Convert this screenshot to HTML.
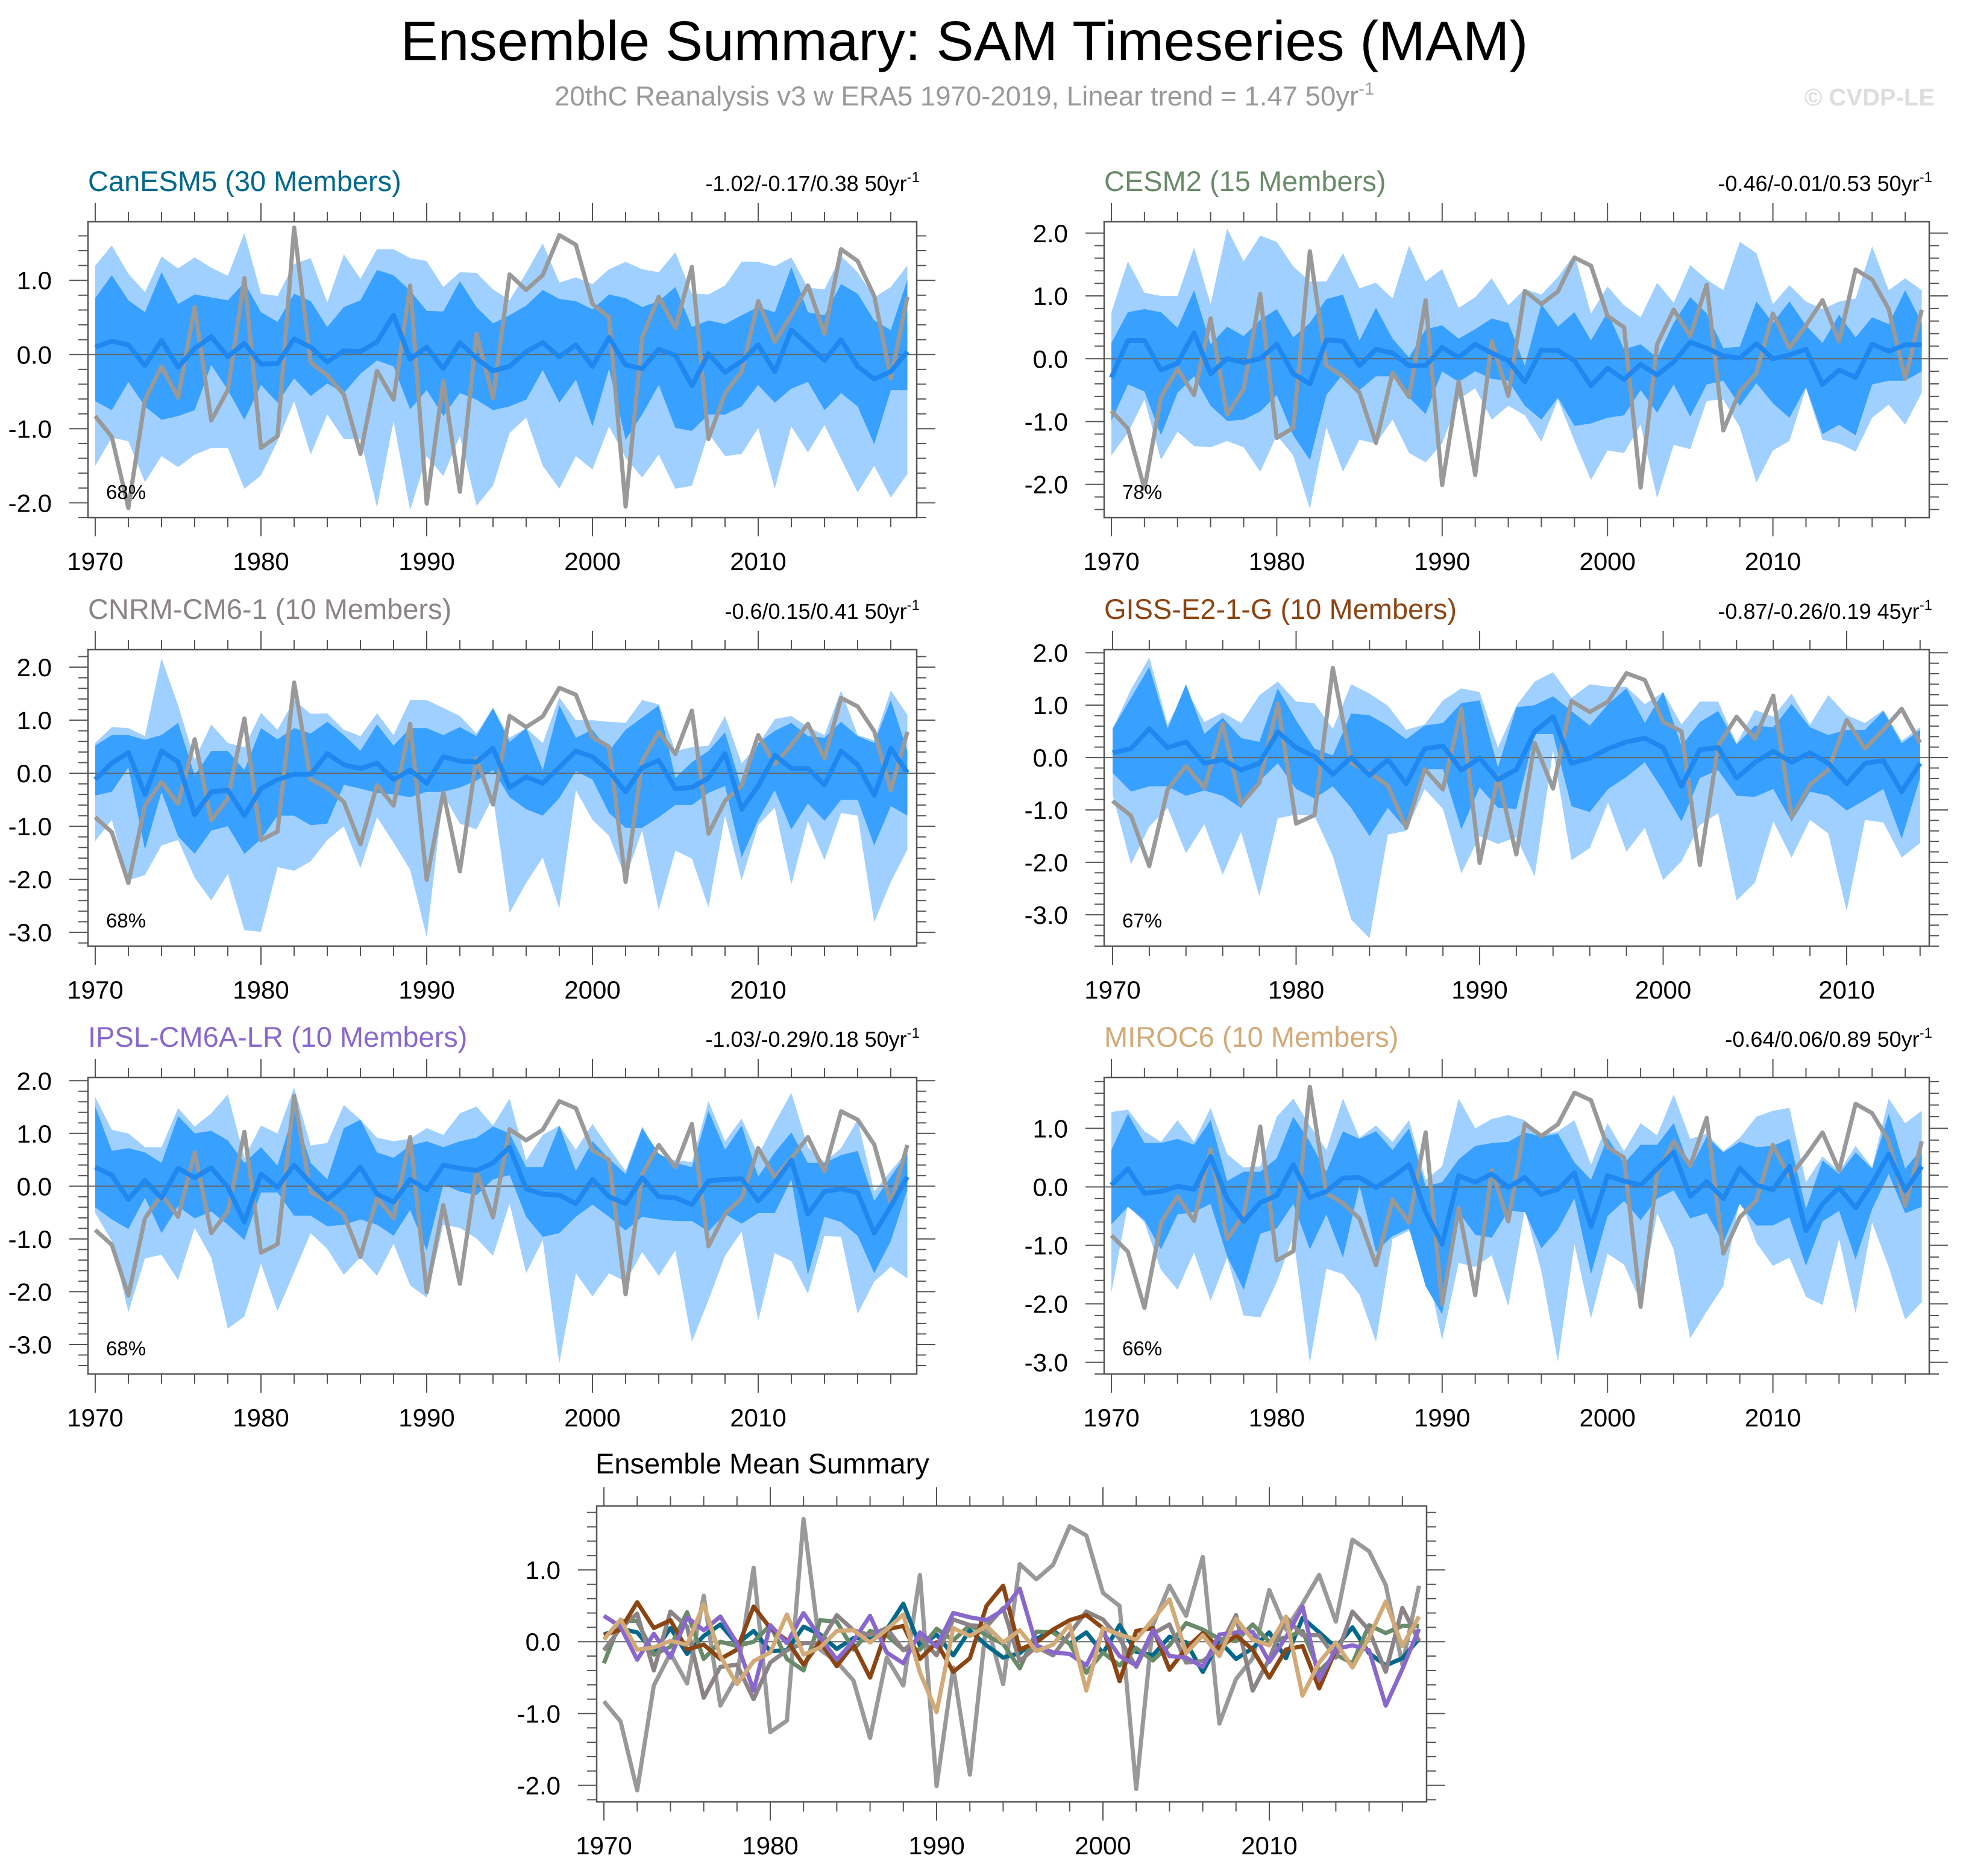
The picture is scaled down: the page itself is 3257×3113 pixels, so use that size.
<!DOCTYPE html>
<html><head><meta charset="utf-8"><title>Ensemble Summary: SAM Timeseries (MAM)</title>
<style>html,body{margin:0;padding:0;background:#fff}svg{display:block}text{font-family:"Liberation Sans",Arial,sans-serif}</style>
</head><body>
<svg id="chart" xmlns="http://www.w3.org/2000/svg" width="3257" height="3113" viewBox="0 0 3257 3113">
<rect x="0" y="0" width="3257" height="3113" fill="#fff"/>
<text x="1600" y="100" font-size="93" text-anchor="middle" fill="#000">Ensemble Summary: SAM Timeseries (MAM)</text>
<text x="1600" y="175" font-size="45.5" text-anchor="middle" fill="#999">20thC Reanalysis v3 w ERA5 1970-2019, Linear trend = 1.47 50yr<tspan dy="-18" font-size="29">-1</tspan></text>
<text x="3210" y="175" font-size="40" font-weight="bold" text-anchor="end" fill="#ddd">© CVDP-LE</text>
</svg>
<script>
// ---------- data ----------
const years = [1970,1971,1972,1973,1974,1975,1976,1977,1978,1979,1980,1981,1982,1983,1984,1985,1986,1987,1988,1989,1990,1991,1992,1993,1994,1995,1996,1997,1998,1999,2000,2001,2002,2003,2004,2005,2006,2007,2008,2009,2010,2011,2012,2013,2014,2015,2016,2017,2018,2019];
const yearTicks = [1970,1980,1990,2000,2010];
const obs = [-0.83,-1.11,-2.07,-0.61,-0.16,-0.58,0.64,-0.89,-0.48,1.03,-1.26,-1.10,1.71,-0.11,-0.28,-0.54,-1.34,-0.22,-0.61,0.93,-2.01,-0.36,-1.85,0.28,-0.59,1.08,0.87,1.07,1.61,1.48,0.68,0.50,-2.05,0.23,0.78,0.36,1.18,-1.14,-0.52,-0.23,0.72,0.17,0.53,0.93,0.28,1.42,1.26,0.79,-0.32,0.78];

const canMean=[0.1,0.18,0.13,-0.15,0.19,-0.17,0.08,0.24,-0.03,0.15,-0.13,-0.12,0.21,0.1,-0.1,0.05,0.04,0.17,0.53,-0.06,0.1,-0.19,0.16,-0.05,-0.22,-0.16,0.04,0.16,-0.03,0.13,-0.16,0.23,-0.14,-0.19,0.07,-0.01,-0.42,0.01,-0.24,-0.09,0.13,-0.23,0.33,0.13,-0.08,0.2,-0.16,-0.33,-0.23,0.04];
const canDU=[0.76,1.07,0.73,0.57,1.11,0.68,0.81,0.77,0.73,0.97,0.57,0.44,0.82,0.72,0.37,0.64,0.73,1.14,1.07,0.86,0.59,0.58,0.99,0.64,0.42,0.53,0.66,0.87,0.75,0.72,0.61,0.81,0.76,0.64,0.72,0.91,0.37,0.46,0.41,0.53,0.64,0.57,1.18,0.57,0.53,0.95,0.82,0.46,0.33,1.01];
const canLU=[1.2,1.47,1.09,0.84,1.32,1.16,1.31,1.17,1.06,1.64,0.82,0.79,1.22,1.3,0.7,1.35,1.02,1.42,1.42,1.3,1.26,0.91,1.11,1.1,0.88,0.73,1.1,1.5,0.97,1.04,0.95,1.15,1.25,1.15,1.11,1.38,0.82,0.81,0.93,1.25,1.25,1.19,1.31,0.9,0.88,1.33,1.11,0.77,0.91,1.2];
const canDL=[-0.63,-0.75,-0.37,-0.7,-0.88,-0.83,-0.75,-0.14,-0.48,-0.88,-0.41,-0.65,-0.32,-0.56,-0.39,-0.52,-0.26,-0.08,-0.16,-0.74,-0.48,-0.83,-0.52,-0.61,-0.75,-0.7,-0.61,-0.21,-0.65,-0.34,-0.97,-0.19,-1.15,-0.81,-0.41,-0.99,-1.03,-0.81,-0.81,-0.7,-0.41,-0.65,-0.46,-0.37,-0.75,-0.52,-0.7,-1.21,-0.48,-0.48];
const canLL=[-1.5,-1.12,-1.17,-1.72,-1.37,-1.52,-1.35,-1.26,-1.26,-1.81,-1.63,-1.17,-0.63,-1.35,-0.81,-1.14,-1.14,-2.06,-0.9,-2.1,-1.37,-1.64,-1.1,-2.04,-1.77,-1.06,-0.85,-1.5,-1.81,-1.37,-1.55,-0.97,-1.39,-1.66,-1.35,-1.81,-1.77,-1.06,-1.37,-1.34,-0.99,-1.81,-0.97,-1.32,-0.95,-1.41,-1.86,-1.5,-1.93,-1.61];

const cesmMean=[-0.3,0.29,0.29,-0.18,-0.07,0.41,-0.24,0,-0.06,0,0.23,-0.24,-0.4,0.3,0.28,-0.11,0.15,0.09,-0.11,-0.11,0.18,0.02,0.23,0.09,-0.03,-0.37,0.14,0.13,-0.03,-0.43,-0.15,-0.33,-0.09,-0.26,-0.05,0.26,0.17,0.04,0.01,0.24,0,0.06,0.15,-0.41,-0.18,-0.3,0.23,0.12,0.22,0.22];
const cesmDU=[0.25,0.74,0.79,0.74,0.49,1.09,0.23,0.51,0.36,0.62,0.79,0.34,0.57,0.95,1.02,0.29,0.81,0.32,0.02,0.47,0.53,0.32,0.47,0.64,0.57,-0.11,0.87,0.51,0.74,0.29,0.74,0.15,0.23,0.02,0.57,0.98,0.72,0.17,0.19,0.91,0.57,0.91,0.53,0.25,0.7,0.34,0.66,0.55,1.09,0.57];
const cesmLU=[0.74,1.55,1.05,1.0,1.0,1.77,0.87,2.07,1.55,1.96,1.86,1.47,1.23,1.23,1.68,1.12,1.21,0.96,1.8,1.23,1.43,0.81,0.98,1.28,0.85,1.11,1.02,1.3,1.66,0.72,1.15,0.85,0.66,1.21,0.89,1.49,1.26,1.09,1.86,1.68,0.87,1.17,0.91,0.79,0.91,0.96,1.79,1.09,1.28,1.09];
const cesmDL=[-0.99,-0.41,-0.52,-1.22,-0.54,-0.28,-0.75,-0.99,-0.97,-0.84,-0.58,-1.22,-1.61,-0.58,-0.24,-0.5,-0.28,-0.28,-0.62,-0.88,-0.2,-0.37,-0.2,-0.32,-0.35,-0.75,-0.97,-0.62,-1.07,-1.03,-0.94,-0.9,-0.5,-0.86,-0.41,-0.92,-0.41,-0.35,-0.75,-0.39,-0.71,-0.94,-0.45,-1.2,-1.05,-1.22,-0.41,-0.35,-0.35,-0.2];
const cesmLL=[-1.54,-1.18,-0.65,-1.61,-1.16,-1.39,-1.41,-1.31,-1.41,-1.8,-1.22,-1.54,-2.39,-1.09,-1.8,-1.29,-1.35,-0.97,-1.5,-1.65,-1.35,-0.65,-0.47,-0.97,-0.75,-0.9,-1.32,-0.65,-1.31,-1.93,-1.46,-1.5,-1.05,-2.22,-1.37,-1.44,-0.67,-0.65,-1.09,-1.97,-1.46,-1.31,-0.47,-1.29,-1.35,-1.48,-0.94,-0.73,-1.05,-0.54];

const cnrmMean=[-0.12,0.19,0.39,-0.4,0.42,0.21,-0.78,-0.35,-0.32,-0.8,-0.29,-0.12,-0.02,-0.02,0.37,0.16,0.09,0.19,-0.12,0.06,-0.19,0.31,0.23,0.21,0.47,-0.27,-0.07,-0.19,0.11,0.42,0.31,0.04,-0.35,0.11,0.24,-0.29,-0.27,-0.09,0.37,-0.68,-0.24,0.34,0.09,0.09,-0.22,0.42,0.16,-0.42,0.47,0.01];
const cnrmDU=[0.52,0.72,0.72,0.63,0.72,0.95,-0.04,0.42,0.42,0.06,0.85,0.64,0.85,0.75,0.97,0.72,0.42,0.92,0.52,0.85,0.85,0.72,0.87,0.7,1.23,0.59,0.85,0.06,1.28,0.67,0.82,0.42,0.82,1.05,1.28,-0.09,0.21,0.42,0.77,-0.29,0.57,0.8,0.95,0.7,0.67,0.97,0.7,0.57,1.38,0.42];
const cnrmLU=[0.57,0.87,0.85,0.7,2.17,1.28,0.26,0.92,0.57,0.49,1.14,0.82,1.38,1.12,1.13,0.82,0.7,1.13,0.72,1.38,1.38,1.23,1.08,0.75,1.23,0.67,0.85,0.57,1.43,1.0,1.0,0.97,0.95,1.38,1.3,0.42,0.49,0.52,1.08,0.19,0.54,1.02,1.08,0.87,0.72,1.56,0.72,0.62,1.56,1.1];
const cnrmDL=[-0.42,-0.35,0.11,-1.44,-0.35,-1.19,-1.52,-1.08,-1.0,-1.52,-1.24,-0.8,-0.8,-0.98,-0.95,-0.22,-0.29,-0.37,-0.4,-0.45,-0.35,-0.35,-0.27,-0.14,0.06,-0.45,-0.68,-0.8,-0.47,0.04,-0.12,-0.75,-1.03,-1.03,-0.83,-0.6,-0.6,-0.37,-0.24,-1.59,-0.88,-0.32,-1.06,-0.57,-0.9,-0.5,-0.5,-1.36,-0.62,-0.8];
const cnrmLL=[-1.28,-0.88,-2.02,-1.92,-1.36,-1.26,-1.97,-2.4,-1.9,-2.96,-2.99,-1.77,-1.84,-1.66,-1.26,-1.0,-1.79,-0.83,-1.31,-1.82,-3.09,-0.4,-0.95,-1.06,-0.45,-2.63,-2.07,-1.59,-2.55,-0.32,-0.88,-1.18,-1.97,-1.08,-2.58,-1.46,-1.61,-2.53,-0.8,-2.02,-0.98,-0.65,-2.1,-0.9,-1.64,-0.75,-0.8,-2.81,-2.05,-1.44];

const gissMean=[0.09,0.17,0.55,0.19,0.3,-0.11,-0.04,-0.24,-0.11,0.49,0.19,0.02,-0.32,0,-0.34,-0.04,-0.5,0.17,0.22,-0.24,-0.01,-0.42,-0.23,0.5,0.78,-0.11,-0.01,0.17,0.3,0.37,0.19,-0.55,0.15,0.19,-0.39,-0.09,0.12,-0.09,0.09,-0.11,-0.5,-0.11,-0.06,-0.65,-0.11];
const gissDU=[0.55,1.14,1.73,0.55,1.4,0.45,0.76,0.37,0.3,1.32,0.71,0.17,0.04,0.84,0.81,0.61,0.35,0.61,0.66,1.04,1.09,-0.19,0.96,1.0,1.17,0.89,0.61,1.02,1.32,0.66,1.25,0.22,0.68,0.89,0.25,0.61,0.58,1.02,0.58,0.43,0.53,0.53,0.89,0.27,0.53];
const gissLU=[0.55,1.3,1.91,0.63,1.3,0.68,0.86,0.66,1.19,1.45,1.07,1.04,0.55,1.4,1.22,0.99,0.53,0.63,1.09,1.32,1.25,0.19,0.99,1.45,1.63,1.14,1.4,1.35,1.35,1.02,1.25,0.63,1.07,1.07,0.27,0.91,0.78,1.22,0.63,1.19,0.81,0.66,0.91,0.32,0.58];
const gissDL=[-0.29,-0.65,-0.55,-0.55,-0.73,-0.63,-0.73,-0.96,-0.45,-0.11,-0.6,-0.78,-0.55,-0.96,-1.5,-0.96,-1.37,-0.22,-0.22,-1.37,-0.57,-0.96,-0.98,0.45,0.45,-0.93,-1.04,-0.6,-0.37,-0.09,-0.63,-1.22,-0.39,-0.24,-0.73,-0.75,-0.6,-1.22,-0.65,-0.73,-1.01,-0.81,-0.6,-1.55,-0.39];
const gissLL=[-0.7,-2.04,-1.32,-0.96,-1.83,-1.27,-2.24,-1.42,-2.65,-1.16,-1.09,-1.11,-1.88,-3.09,-3.45,-1.47,-1.4,-0.6,-0.98,-2.21,-1.5,-1.65,-1.52,-2.27,0.14,-1.96,-1.73,-0.86,-1.8,-1.34,-2.34,-1.98,-1.29,-1.06,-2.73,-2.39,-1.22,-1.91,-1.19,-1.45,-2.93,-1.19,-1.24,-1.91,-1.63];

const ipslMean=[0.36,0.21,-0.25,0.11,-0.22,0.34,0.16,0.35,-0.02,-0.68,0.23,-0.02,0.4,0.06,-0.25,0.01,0.36,-0.15,-0.3,0.13,-0.07,0.4,0.34,0.3,0.44,0.74,-0.05,-0.15,-0.17,-0.33,0.13,-0.2,-0.33,0.16,-0.2,-0.22,-0.35,0.1,0.13,0.14,-0.28,0.06,0.49,-0.53,-0.1,-0.05,-0.12,-0.89,-0.38,0.18];
const ipslDU=[1.51,0.67,0.72,0.64,0.44,1.33,1.0,1.05,0.87,0.44,0.74,0.39,1.43,0.44,0.13,1.1,1.26,0.64,0.54,0.77,0.85,0.74,0.85,0.92,1.13,1.0,0.36,0.36,1.15,0.29,0.85,0.52,0.23,1.1,0.62,0.44,0.36,1.43,0.69,1.15,0.18,0.64,1.02,0.44,0.44,0.59,0.67,-0.28,0.18,0.64];
const ipslLU=[1.69,1.07,1.0,0.74,0.74,1.48,1.13,1.38,1.74,0.54,1.15,1.0,1.87,0.77,0.82,1.54,1.26,0.92,0.85,0.9,1.1,0.97,1.38,1.51,1.15,1.66,0.49,0.97,1.15,0.69,1.18,0.72,0.29,1.13,0.57,0.49,0.46,1.61,0.85,1.28,0.59,1.2,1.77,0.74,0.46,0.72,1.26,-0.1,0.29,0.67];
const ipslDL=[-0.4,-0.63,-0.81,-0.22,-0.89,-0.38,-0.61,-0.48,-0.73,-1.02,-0.12,-0.12,-0.56,-0.56,-0.76,-0.73,-0.63,-0.73,-0.94,-0.45,-1.22,0.03,-0.1,-0.17,0.13,0.21,-0.58,-0.96,-0.89,-0.58,-0.35,-0.58,-0.84,-0.58,-0.63,-0.66,-0.66,-0.86,-0.53,-0.71,-0.51,-0.51,0.13,-1.68,-0.58,-0.68,-0.94,-1.65,-1.04,-0.07];
const ipslLL=[-0.51,-1.04,-2.39,-1.37,-1.3,-1.78,-0.79,-1.35,-2.7,-2.47,-1.47,-2.37,-1.63,-0.89,-1.19,-1.68,-1.35,-1.7,-1.09,-1.88,-2.11,-0.73,-0.79,-0.99,-1.32,-0.33,-1.65,-1.02,-3.36,-1.65,-2.09,-1.65,-1.81,-1.25,-1.7,-1.22,-2.95,-2.16,-1.32,-0.86,-2.55,-1.27,-1.42,-2.04,-0.94,-0.96,-2.42,-1.81,-1.53,-1.75];

const mirocMean=[0.03,0.31,-0.11,-0.08,0.01,-0.04,0.52,-0.2,-0.59,-0.27,-0.15,0.38,-0.18,-0.08,0.15,0.16,-0.01,0.17,0.38,-0.43,-0.98,0.19,0.08,0.22,-0.01,0.16,-0.13,-0.04,0.24,-0.68,0.19,0.1,0.03,0.31,0.59,-0.16,0.09,-0.2,0.32,0.03,-0.05,0.35,-0.75,-0.29,-0.01,-0.36,0.06,0.56,-0.06,0.35];
const mirocDU=[0.63,1.25,0.75,0.75,0.82,0.72,1.14,0.1,0.26,0.26,0.49,1.2,0.77,0.26,0.95,0.82,0.95,0.63,1.0,0.01,0.08,0.47,0.7,0.75,0.77,0.93,0.86,0.91,0.42,0.12,0.84,0.4,0.72,0.72,1.09,0.31,0.86,0.59,0.77,0.68,0.7,0.82,-0.38,0.45,0.22,0.59,0.31,1.25,0.31,0.65];
const mirocLU=[1.28,1.32,0.95,0.77,1.14,0.77,1.35,0.56,0.33,0.35,1.2,1.51,1.05,0.63,1.51,0.84,1.05,0.77,1.14,0.12,0.35,1.51,1.0,1.16,1.23,1.14,0.88,0.95,1.14,0.38,1.09,0.61,1.09,0.88,1.58,0.82,0.91,0.61,0.84,1.2,1.3,1.35,0.08,0.52,0.26,0.7,0.33,1.51,1.09,1.3];
const mirocDL=[-0.64,-0.34,-0.57,-1.07,-0.47,-0.43,-0.29,-1.19,-1.76,-0.8,-0.71,-0.29,-1.07,-0.47,-1.21,0.03,-1.11,-0.84,-0.71,-1.7,-2.18,-0.43,-0.82,-0.87,-0.41,-0.43,-1.05,-0.73,-0.2,-1.49,-0.5,-0.24,-0.57,-0.2,-0.06,-0.54,-0.45,-0.96,-0.29,-0.66,-0.66,-0.52,-1.35,-0.59,-0.41,-1.24,-0.38,0.22,-0.45,-0.34];
const mirocLL=[-1.81,-0.31,-0.61,-1.42,-1.76,-1.12,-1.95,-1.21,-2.2,-2.23,-1.63,-0.84,-3.01,-1.4,-1.49,-1.84,-2.65,-0.89,-0.75,-1.3,-2.62,-1.3,-1.37,-1.17,-2.04,-0.38,-1.44,-2.99,-0.98,-2.25,-1.14,-1.33,-1.97,-0.45,-1.07,-2.59,-2.13,-1.7,-0.2,-0.96,-1.35,-1.21,-1.88,-2.02,-0.89,-2.16,-0.61,-1.37,-2.27,-1.97];

// ---------- rendering ----------
const NS='http://www.w3.org/2000/svg';
const svg=document.getElementById('chart');
function mk(tag,attrs,parent){const e=document.createElementNS(NS,tag);for(const k in attrs)e.setAttribute(k,attrs[k]);(parent||svg).appendChild(e);return e;}

const panels=[
 {key:'canesm5',title:'CanESM5 (30 Members)',color:'#00688b',trend:'-1.02/-0.17/0.38 50yr',pct:'68%',L:146,R:1521,T:368,B:859,x0:158,ppy:27.5,yMax:1.79,yMin:-2.2,mean:canMean,du:canDU,lu:canLU,dl:canDL,ll:canLL},
 {key:'cesm2',title:'CESM2 (15 Members)',color:'#698b69',trend:'-0.46/-0.01/0.53 50yr',pct:'78%',L:1832,R:3201,T:368,B:859,x0:1844,ppy:27.44,yMax:2.18,yMin:-2.53,mean:cesmMean,du:cesmDU,lu:cesmLU,dl:cesmDL,ll:cesmLL},
 {key:'cnrm-cm6-1',title:'CNRM-CM6-1 (10 Members)',color:'#8b8386',trend:'-0.6/0.15/0.41 50yr',pct:'68%',L:146,R:1521,T:1078,B:1570,x0:158,ppy:27.5,yMax:2.33,yMin:-3.26,mean:cnrmMean,du:cnrmDU,lu:cnrmLU,dl:cnrmDL,ll:cnrmLL},
 {key:'giss-e2-1-g',title:'GISS-E2-1-G (10 Members)',color:'#8b4513',trend:'-0.87/-0.26/0.19 45yr',pct:'67%',L:1832,R:3201,T:1078,B:1570,x0:1846,ppy:30.45,yMax:2.06,yMin:-3.6,mean:gissMean,du:gissDU,lu:gissLU,dl:gissDL,ll:gissLL},
 {key:'ipsl-cm6a-lr',title:'IPSL-CM6A-LR (10 Members)',color:'#8968cd',trend:'-1.03/-0.29/0.18 50yr',pct:'68%',L:146,R:1521,T:1788,B:2280,x0:158,ppy:27.5,yMax:2.06,yMin:-3.56,mean:ipslMean,du:ipslDU,lu:ipslLU,dl:ipslDL,ll:ipslLL},
 {key:'miroc6',title:'MIROC6 (10 Members)',color:'#d2aa78',trend:'-0.64/0.06/0.89 50yr',pct:'66%',L:1832,R:3201,T:1788,B:2280,x0:1844,ppy:27.44,yMax:1.87,yMin:-3.2,mean:mirocMean,du:mirocDU,lu:mirocLU,dl:mirocDL,ll:mirocLL}
];

function axes(p,g){
  const xs=y=>p.x0+(y-1970)*p.ppy;
  const ys=v=>p.T+(p.yMax-v)/(p.yMax-p.yMin)*(p.B-p.T);
  p.xs=xs;p.ys=ys;
  for(let yr=1970;yr<=2018;yr+=2){
    const x=xs(yr); if(x>p.R) continue;
    const major=(yr%10===0); const len=major?31:16;
    const t1=mk('line',{x1:x,y1:p.T,x2:x,y2:p.T-len,stroke:'#555','stroke-width':2},g);
    
    
    const t2=mk('line',{x1:x,y1:p.B,x2:x,y2:p.B+len,stroke:'#555','stroke-width':2},g);
    
    
  }
  yearTicks.forEach(yr=>{
    const x=xs(yr); if(x>p.R) return;
    const t=mk('text',{x:x,y:p.B+87,'font-size':42,'text-anchor':'middle',fill:'#000'},g);
    t.textContent=yr;
    
    
  });
  for(let i=Math.ceil(p.yMin*5);i<=Math.floor(p.yMax*5);i++){
    const v=i/5; const y=ys(v); const major=(i%5===0); const len=major?31:16;
    const a=mk('line',{x1:p.L,y1:y,x2:p.L-len,y2:y,stroke:'#555','stroke-width':2},g);
    
    
    const b=mk('line',{x1:p.R,y1:y,x2:p.R+len,y2:y,stroke:'#555','stroke-width':2},g);
    
    
    if(major){
      const t=mk('text',{x:p.L-60,y:y+15,'font-size':42,'text-anchor':'end',fill:'#000'},g);
      t.textContent=(v).toFixed(1).replace('-0.0','0.0');
      
      
    }
  }
}
function pts(p,arr){return arr.map((v,i)=>p.xs(years[i]).toFixed(1)+','+p.ys(v).toFixed(1)).join(' ');}
function band(p,up,lo){const a=up.map((v,i)=>p.xs(years[i]).toFixed(1)+','+p.ys(v).toFixed(1));const b=lo.map((v,i)=>p.xs(years[i]).toFixed(1)+','+p.ys(v).toFixed(1)).reverse();return a.concat(b).join(' ');}

panels.forEach((p,idx)=>{
  const g=mk('g',{});
  
  
  axes(p,g);
  const clipId='clip'+idx;
  const cp=mk('clipPath',{id:clipId},g); mk('rect',{x:p.L,y:p.T,width:p.R-p.L,height:p.B-p.T},cp);
  const inner=mk('g',{'clip-path':'url(#'+clipId+')'},g);
  const n=p.mean.length;
  const lb=mk('polygon',{points:band(p,p.lu,p.ll),fill:'#a0d0ff'},inner);
  
  
  const db=mk('polygon',{points:band(p,p.du,p.dl),fill:'#38a0ff'},inner);
  
  
  const z=mk('line',{x1:p.L,x2:p.R,y1:p.ys(0),y2:p.ys(0),stroke:'#666','stroke-width':2},inner);
  
  
  const ol=mk('polyline',{points:pts(p,obs.slice(0,n)),fill:'none',stroke:'#999','stroke-width':7,'stroke-linejoin':'round'},inner);
  
  
  const ml=mk('polyline',{points:pts(p,p.mean),fill:'none',stroke:'#1e88f0','stroke-width':8,'stroke-linejoin':'round'},inner);
  
  
  const box=mk('rect',{x:p.L,y:p.T,width:p.R-p.L,height:p.B-p.T,fill:'none',stroke:'#555','stroke-width':2.5},g);
  
  
  const tt=mk('text',{x:p.L,y:p.T-51,'font-size':47,fill:p.color},g);
  tt.textContent=p.title;
  
  
  const tr=mk('text',{x:p.R+5,y:p.T-51,'font-size':36,'text-anchor':'end',fill:'#000'},g);
  
  
  tr.appendChild(document.createTextNode(p.trend));
  const sup=mk('tspan',{dy:-15,'font-size':24},tr); sup.textContent='-1';
  const pc=mk('text',{x:p.L+30,y:p.B-31,'font-size':33,fill:'#000'},g);
  pc.textContent=p.pct;
  
  
});

const sp={key:'summary',L:990,R:2367,T:2499,B:2990,x0:1002,ppy:27.6,yMax:1.89,yMin:-2.23};
const sg=mk('g',{});


axes(sp,sg);
const scp=mk('clipPath',{id:'clipS'},sg); mk('rect',{x:sp.L,y:sp.T,width:sp.R-sp.L,height:sp.B-sp.T},scp);
const sin=mk('g',{'clip-path':'url(#clipS)'},sg);
const sz=mk('line',{x1:sp.L,x2:sp.R,y1:sp.ys(0),y2:sp.ys(0),stroke:'#666','stroke-width':2},sin);


const so=mk('polyline',{points:pts(sp,obs),fill:'none',stroke:'#999','stroke-width':7,'stroke-linejoin':'round'},sin);


panels.forEach(p=>{
  const l=mk('polyline',{points:pts(sp,p.mean),fill:'none',stroke:p.color,'stroke-width':7,'stroke-linejoin':'round'},sin);
  
  
});
const sbox=mk('rect',{x:sp.L,y:sp.T,width:sp.R-sp.L,height:sp.B-sp.T,fill:'none',stroke:'#555','stroke-width':2.5},sg);


const st=mk('text',{x:988,y:2445,'font-size':47,fill:'#000'},sg);
st.textContent='Ensemble Mean Summary';


</script>
</body></html>
